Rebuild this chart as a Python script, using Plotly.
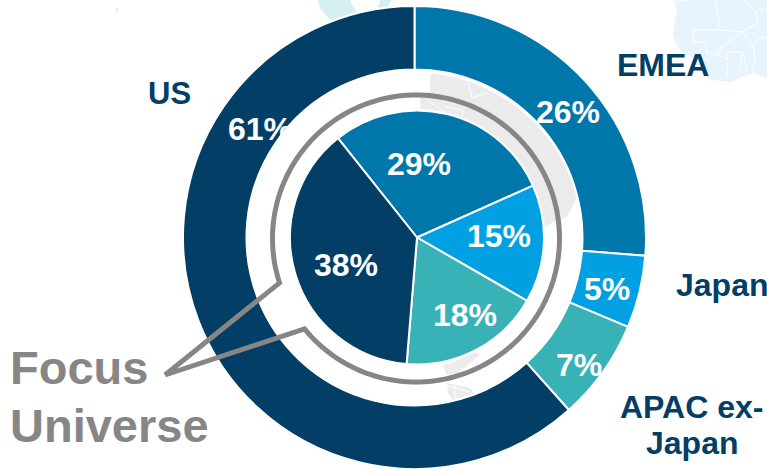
import numpy as np
import plotly.graph_objects as go

W, H = 767, 469

# Regional weights, clockwise from the top of each ring
regions_outer = ["EMEA", "Japan", "APAC ex-Japan", "US"]
values_outer = [26, 5, 7, 61]
regions_inner = ["EMEA", "Japan", "APAC ex-Japan", "US"]
values_inner = [29, 15, 18, 38]

NAVY = "#023E66"
BLUE = "#0077AB"
SKY = "#00A0E3"
TEAL = "#38B2B7"
GREY = "#868686"
slice_colors = [BLUE, SKY, TEAL, NAVY]


def fx(x):
    return x / W


def fy(y):
    return 1 - y / H


def poly(points, close=True):
    body = " L ".join(f"{fx(x):.5f},{fy(y):.5f}" for x, y in points)
    return "M " + body + (" Z" if close else "")


def arc(cx, cy, r, a0, a1, n=160):
    # Angles in degrees, clockwise from twelve o'clock
    t = np.radians(np.linspace(a0, a1, n))
    return list(zip(cx + r * np.sin(t), cy - r * np.cos(t)))


def domain(cx, cy, r):
    return dict(x=[fx(cx - r), fx(cx + r)], y=[max(fy(cy + r), 0), min(fy(cy - r), 1)])


fig = go.Figure()
fig.add_trace(go.Pie(
    labels=regions_outer, values=values_outer, sort=False, direction="clockwise",
    rotation=0, hole=168 / 231.5, textinfo="none", hoverinfo="label+percent",
    marker=dict(colors=slice_colors, line=dict(color="white", width=2)),
    domain=domain(414.5, 237.5, 231.5), showlegend=False,
))
fig.add_trace(go.Pie(
    labels=regions_inner, values=values_inner, sort=False, direction="clockwise",
    rotation=-38.5, textinfo="none", hoverinfo="label+percent",
    marker=dict(colors=slice_colors, line=dict(color="white", width=2)),
    domain=domain(417, 237.5, 127), showlegend=False,
))

shapes = []

# Faint world-map fragments sitting behind the rings
africa_fill = [(673, 0), (677, 10), (675, 20), (673, 33), (675, 42), (680, 50), (695, 60), (705, 75),
               (712, 80), (730, 82), (745, 76), (755, 73), (767, 78), (767, 0)]
europe_band = (arc(416, 239, 166, 5, 75.7, 90) + [(567, 217), (553, 222), (545, 228)]
               + arc(416, 238, 129, 85, 2, 90) + [(420, 98), (430, 91)])
asia_upper = [(475, 352), (480, 355), (458, 373), (447, 375), (443, 365), (452, 363)]
asia_lower = [(447, 383), (468, 387), (475, 393), (453, 400), (448, 393)]
map_land = [
    ("#E7F4FD", africa_fill),
    ("#D6F0F2", [(318, 0), (320, 8), (328, 18), (345, 30), (375, 20), (357, 13), (350, 0)]),
    ("#D6F0F2", [(380, 0), (378, 8), (387, 8), (392, 0)]),
    ("#EBEBEB", europe_band),
    ("#ECECEC", asia_upper),
    ("#ECECEC", asia_lower),
    ("#E6E6E6", [(116, 8), (118, 8), (118, 12), (116, 12)]),
]
for color, pts in map_land:
    shapes.append(dict(type="path", xref="paper", yref="paper", layer="below", path=poly(pts),
                       fillcolor=color, line=dict(width=0)))

# Country borders drawn in white across the land areas
borders = [
    [(673, 2), (688, 0)],
    [(715, 0), (719, 23), (718, 30), (695, 30), (693, 30), (693, 42), (705, 43), (707, 53), (718, 55), (728, 60)],
    [(718, 30), (742, 32), (718, 50), (718, 55)],
    [(728, 52), (742, 52), (740, 75)],
    [(728, 52), (727, 77)],
    [(742, 32), (753, 45), (755, 60), (752, 75)],
    [(745, 0), (755, 12), (767, 8)],
    [(755, 12), (758, 23), (742, 32)],
    [(755, 43), (760, 37), (767, 38)],
    [(743, 52), (747, 72)],
    [(468, 83), (472, 98), (487, 93)],
    [(428, 101), (445, 112)],
    [(445, 107), (463, 110), (462, 117)],
    [(446, 385), (470, 392)],
    [(455, 385), (455, 398)],
]
for pts in borders:
    shapes.append(dict(type="path", xref="paper", yref="paper", layer="below", path=poly(pts, close=False),
                       line=dict(color="white", width=1)))

# White mask that trims the 61% label along the inner edge of the outer ring
pct = [f"{v}%" for v in values_outer]
shapes.append(dict(type="rect", xref="paper", yref="paper", x0=fx(225), x1=fx(295), y0=fy(145), y1=fy(107),
                   line=dict(width=0), fillcolor="rgba(0,0,0,0)",
                   label=dict(text=pct[3], textposition="middle center",
                              font=dict(family="Liberation Sans", size=32, color="white", weight="bold"))))
mask = arc(415, 239, 168, -62, -38, 40) + arc(415, 239, 150, -38, -62, 40)
shapes.append(dict(type="path", xref="paper", yref="paper", path=poly(mask), fillcolor="white", line=dict(width=0)))

# Ring around the focus pie, opening into a pointer toward its caption
ring_cx, ring_cy, ring_r = 416, 238.5, 143.5
ring = arc(ring_cx, ring_cy, ring_r, -108, 231, 340)
outline = [(165, 375)] + ring + [(165, 375)]
shapes.append(dict(type="path", xref="paper", yref="paper", path=poly(outline, close=False),
                   fillcolor="rgba(0,0,0,0)", line=dict(color=GREY, width=5)))

annotations = []


def label(text, x, y, size, color):
    annotations.append(dict(text=text, xref="paper", yref="paper", x=fx(x), y=fy(y), xanchor="center",
                            yanchor="middle", showarrow=False,
                            font=dict(family="Liberation Sans", size=size, color=color, weight="bold")))


label(pct[0], 568, 112, 32, "white")
label(pct[1], 607, 289, 32, "white")
label(pct[2], 579, 365, 32, "white")
inner_pct = [f"{v}%" for v in values_inner]
label(inner_pct[0], 419, 164, 32, "white")
label(inner_pct[1], 499, 236, 32, "white")
label(inner_pct[2], 465, 315, 32, "white")
label(inner_pct[3], 346, 265, 32, "white")

label("US", 169, 94, 31, NAVY)
label("EMEA", 663, 65, 32, NAVY)
label("Japan", 721.5, 285, 32, NAVY)
label("APAC ex-", 691.5, 407, 32, NAVY)
label("Japan", 691.5, 443, 32, NAVY)

label("Focus", 79, 367, 47, GREY)
label("Universe", 109, 425, 47, GREY)

fig.update_layout(
    width=W, height=H, margin=dict(l=0, r=0, t=0, b=0, pad=0),
    paper_bgcolor="white", plot_bgcolor="white",
    shapes=shapes, annotations=annotations, showlegend=False,
)
fig.write_html("out.html", config=dict(displayModeBar=False))
